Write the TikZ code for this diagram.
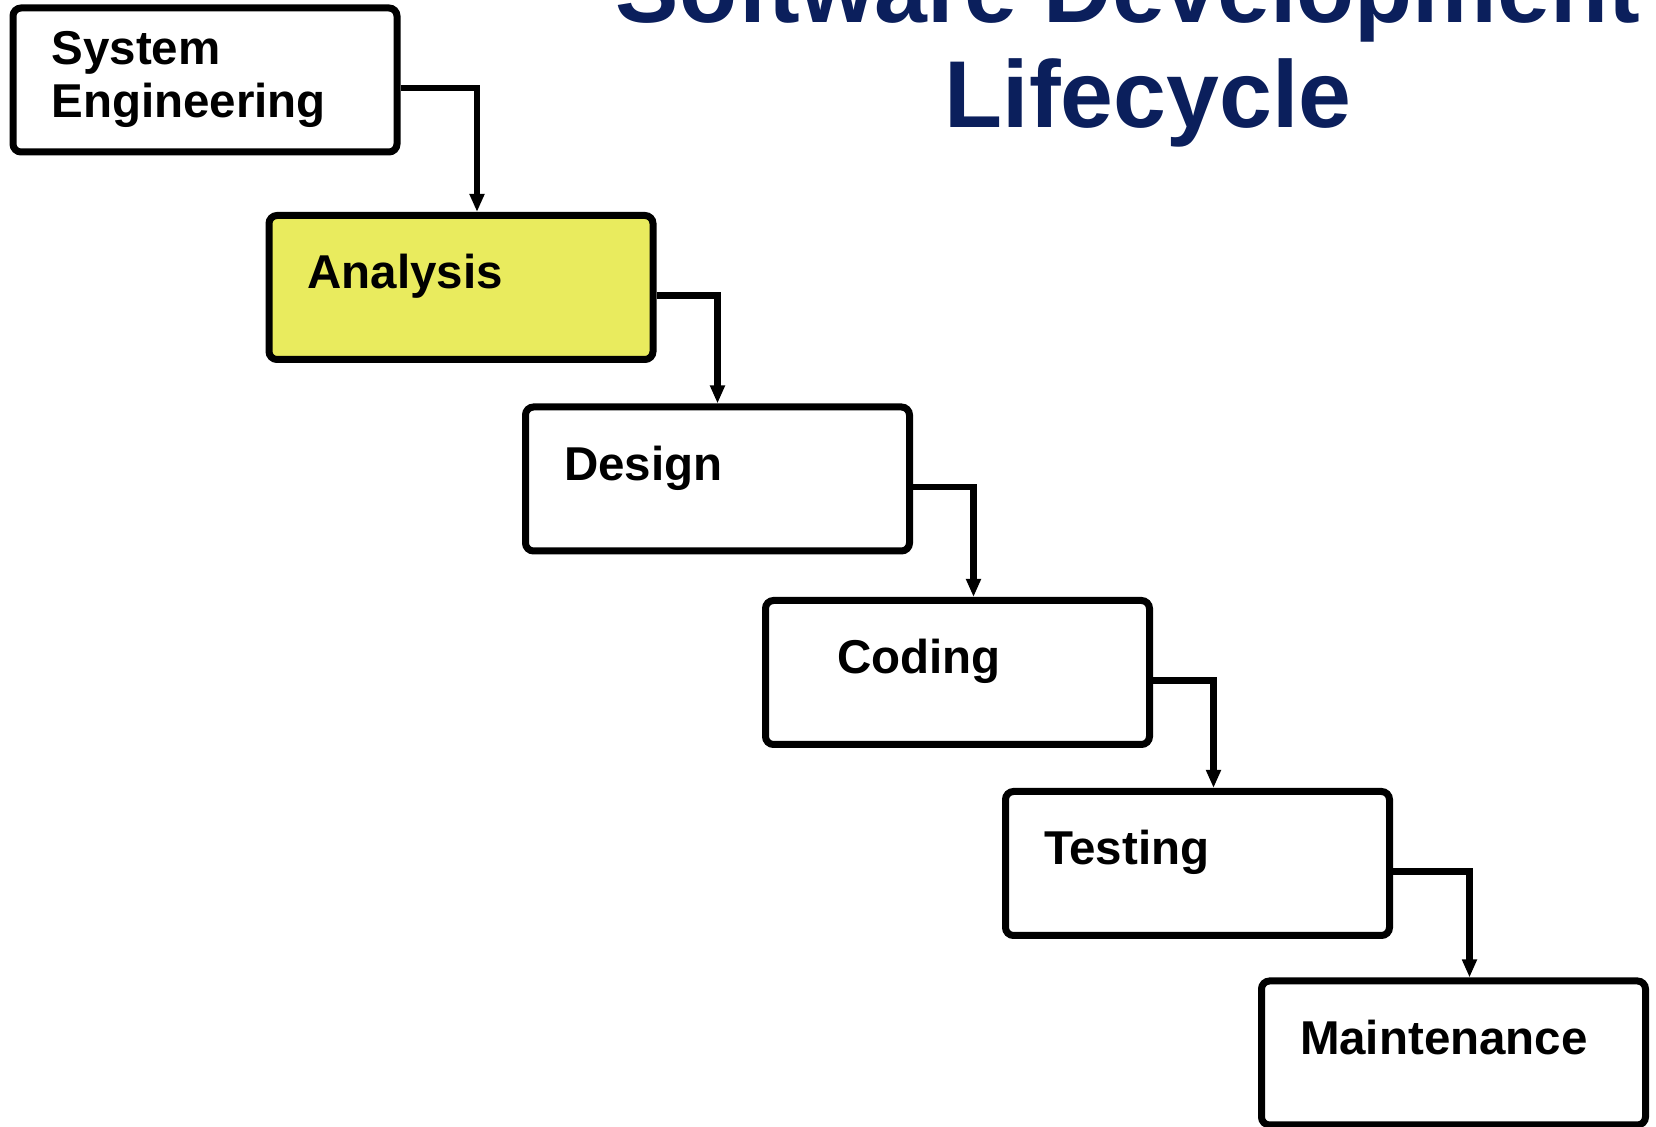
\documentclass[tikz,border=0pt]{standalone}
\usepackage{fontspec}
\setmainfont{Liberation Sans}
\usetikzlibrary{arrows.meta}
\definecolor{titleblue}{RGB}{11,31,92}
\definecolor{phaseyellow}{RGB}{233,235,94}

\begin{document}
\begin{tikzpicture}[x=0.5pt,y=-0.5pt,
		phase/.style={draw,line width=3.5pt,rounded corners=4pt,fill=white,align=left,text width=153.5pt,inner xsep=19.25pt,inner ysep=0pt,text height=36.75pt,text depth=35.25pt,font=\fontsize{23.75}{25}\selectfont\bfseries},
		heading/.style={anchor=base,text=titleblue,font=\fontsize{47.5}{50}\selectfont\bfseries},
		elbow/.style={to path={-| (\tikztotarget)}},
		flow/.style={line width=3.25pt,-{Stealth[length=9pt,width=7pt,inset=0pt]}}]
	\useasboundingbox (0,0) rectangle (1656,1127);
	\node[heading] (title1) at (1128,23) {Software Development};
	\node[heading] (title2) at (1148,128) {Lifecycle};
	\node[phase,text height=28.5pt,text depth=43.5pt,font=\fontsize{23.75}{26.25}\selectfont\bfseries] (sys) at (205,80) {System\\Engineering};
	\node[phase,fill=phaseyellow] (ana) at (461,287.5) {Analysis};
	\node[phase] (des) at (717.5,479) {Design};
	\node[phase] (cod) at (957.5,672.5) {\hspace*{16.5pt}Coding};
	\node[phase] (tst) at (1197.5,863.5) {Testing};
	\node[phase] (mnt) at (1453.5,1053) {Maintenance};
	\path[flow]
	([yshift=-4pt]sys.east) edge[elbow] ([xshift=8pt]ana.north)
	([yshift=-4pt]ana.east) edge[elbow] (des.north)
	([yshift=-4pt]des.east) edge[elbow] ([xshift=8pt]cod.north)
	([yshift=-4pt]cod.east) edge[elbow] ([xshift=8pt]tst.north)
	([yshift=-4pt]tst.east) edge[elbow] ([xshift=8pt]mnt.north)
	;
\end{tikzpicture}
\end{document}
